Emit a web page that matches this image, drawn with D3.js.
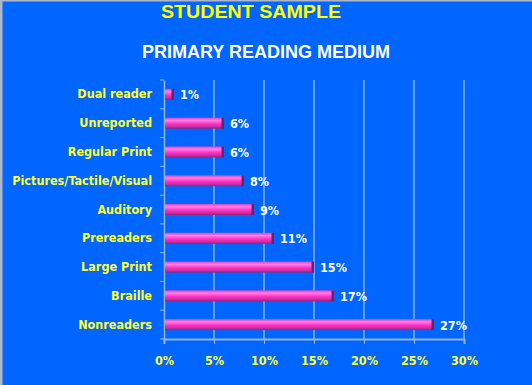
<!DOCTYPE html>
<html>
<head>
<meta charset="utf-8">
<script src="https://d3js.org/d3.v7.min.js"></script>
<style>
  body { margin: 0; }
  svg { display: block; }
  .cat { font-family: "DejaVu Sans Condensed", "DejaVu Sans"; font-weight: bold; font-size: 12.5px; fill: #ffff33; }
  .val { font-family: "DejaVu Sans Condensed", "DejaVu Sans"; font-weight: bold; font-size: 12.5px; fill: #ffffff; }
</style>
</head>
<body>
<script>
var categories = ["Dual reader", "Unreported", "Regular Print", "Pictures/Tactile/Visual",
                  "Auditory", "Prereaders", "Large Print", "Braille", "Nonreaders"];
var values = [1, 6, 6, 8, 9, 11, 15, 17, 27];
var xTicks = [0, 5, 10, 15, 20, 25, 30];

var W = 532, H = 385;
var plotL = 164, plotR = 464, plotT = 80, plotB = 339;

var svg = d3.select("body").append("svg")
  .attr("width", W).attr("height", H);

svg.append("rect").attr("width", W).attr("height", H).attr("fill", "#0066ff");
// thin grey frame on the top and left
svg.append("rect").attr("x", 0).attr("y", 0).attr("width", W).attr("height", 1.5).attr("fill", "#b0b8c8");
svg.append("rect").attr("x", 0).attr("y", 0).attr("width", 2.5).attr("height", H).attr("fill", "#b0b8c8");

var defs = svg.append("defs");
var grad = defs.append("linearGradient").attr("id", "barg")
  .attr("x1", 0).attr("y1", 0).attr("x2", 0).attr("y2", 1);
grad.append("stop").attr("offset", "0%").attr("stop-color", "#e040c0");
grad.append("stop").attr("offset", "25%").attr("stop-color", "#ff80e0");
grad.append("stop").attr("offset", "55%").attr("stop-color", "#ff33cc");
grad.append("stop").attr("offset", "80%").attr("stop-color", "#cc2fa0");
grad.append("stop").attr("offset", "100%").attr("stop-color", "#9a1f78");

var x = d3.scaleLinear().domain([0, 30]).range([plotL, plotR]);
var y = d3.scaleBand().domain(categories).range([plotT, plotB]);

// titles
svg.append("text").attr("x", 251).attr("y", 18).attr("text-anchor", "middle")
  .attr("font-family", "Liberation Sans, Arial").attr("font-weight", "bold")
  .attr("font-size", 18.5).attr("fill", "#ffff00")
  .attr("textLength", 180).attr("lengthAdjust", "spacingAndGlyphs")
  .text("STUDENT SAMPLE");
svg.append("text").attr("x", 266).attr("y", 58).attr("text-anchor", "middle")
  .attr("font-family", "Liberation Sans, Arial").attr("font-weight", "bold")
  .attr("font-size", 18).attr("fill", "#ffffff")
  .text("PRIMARY READING MEDIUM");

// gridlines
svg.append("g").selectAll("line").data(xTicks.slice(1)).enter().append("line")
  .attr("x1", function(d) { return x(d); }).attr("x2", function(d) { return x(d); })
  .attr("y1", plotT).attr("y2", plotB)
  .attr("stroke", "#c8d8f0").attr("stroke-width", 1);

// x axis
var xAxis = d3.axisBottom(x).tickValues(xTicks).tickSize(5).tickPadding(12)
  .tickFormat(function(d) { return d + "%"; });
var gx = svg.append("g").attr("transform", "translate(0," + plotB + ")").call(xAxis);
gx.select(".domain").attr("stroke", "#8fb4f0").attr("stroke-width", 2);
gx.selectAll(".tick line").attr("stroke", "#8fb4f0");
gx.selectAll(".tick text").attr("class", "cat").attr("fill", null);
gx.attr("font-family", null).attr("font-size", null);

// y axis
var yAxis = d3.axisLeft(y).tickSize(0).tickPadding(12);
var gy = svg.append("g").attr("transform", "translate(" + plotL + ",0)").call(yAxis);
gy.select(".domain").attr("stroke", "#8fb4f0").attr("stroke-width", 1.5);
gy.selectAll(".tick text").attr("class", "cat").attr("fill", null);
gy.attr("font-family", null).attr("font-size", null);
// category separator ticks
svg.append("g").selectAll("line").data(d3.range(categories.length + 1)).enter().append("line")
  .attr("x1", plotL - 4).attr("x2", plotL)
  .attr("y1", function(i) { return plotT + i * y.step(); })
  .attr("y2", function(i) { return plotT + i * y.step(); })
  .attr("stroke", "#8fb4f0");

// bars
var bh = 11;
var bars = svg.append("g").selectAll("g").data(values).enter().append("g");
bars.append("rect")
  .attr("x", x(0) + 1)
  .attr("y", function(d, i) { return y(categories[i]) + y.bandwidth() / 2 - bh / 2; })
  .attr("width", function(d) { return x(d) - x(0) - 1; })
  .attr("height", bh)
  .attr("fill", "url(#barg)");
bars.append("rect")
  .attr("x", function(d) { return x(d) - 2.5; })
  .attr("y", function(d, i) { return y(categories[i]) + y.bandwidth() / 2 - bh / 2; })
  .attr("width", 2.5)
  .attr("height", bh)
  .attr("fill", "#7a1a60");

// value labels
svg.append("g").selectAll("text").data(values).enter().append("text")
  .attr("class", "val")
  .attr("x", function(d) { return x(d) + 6; })
  .attr("y", function(d, i) { return y(categories[i]) + y.bandwidth() / 2 + 5; })
  .text(function(d) { return d + "%"; });
</script>
</body>
</html>
